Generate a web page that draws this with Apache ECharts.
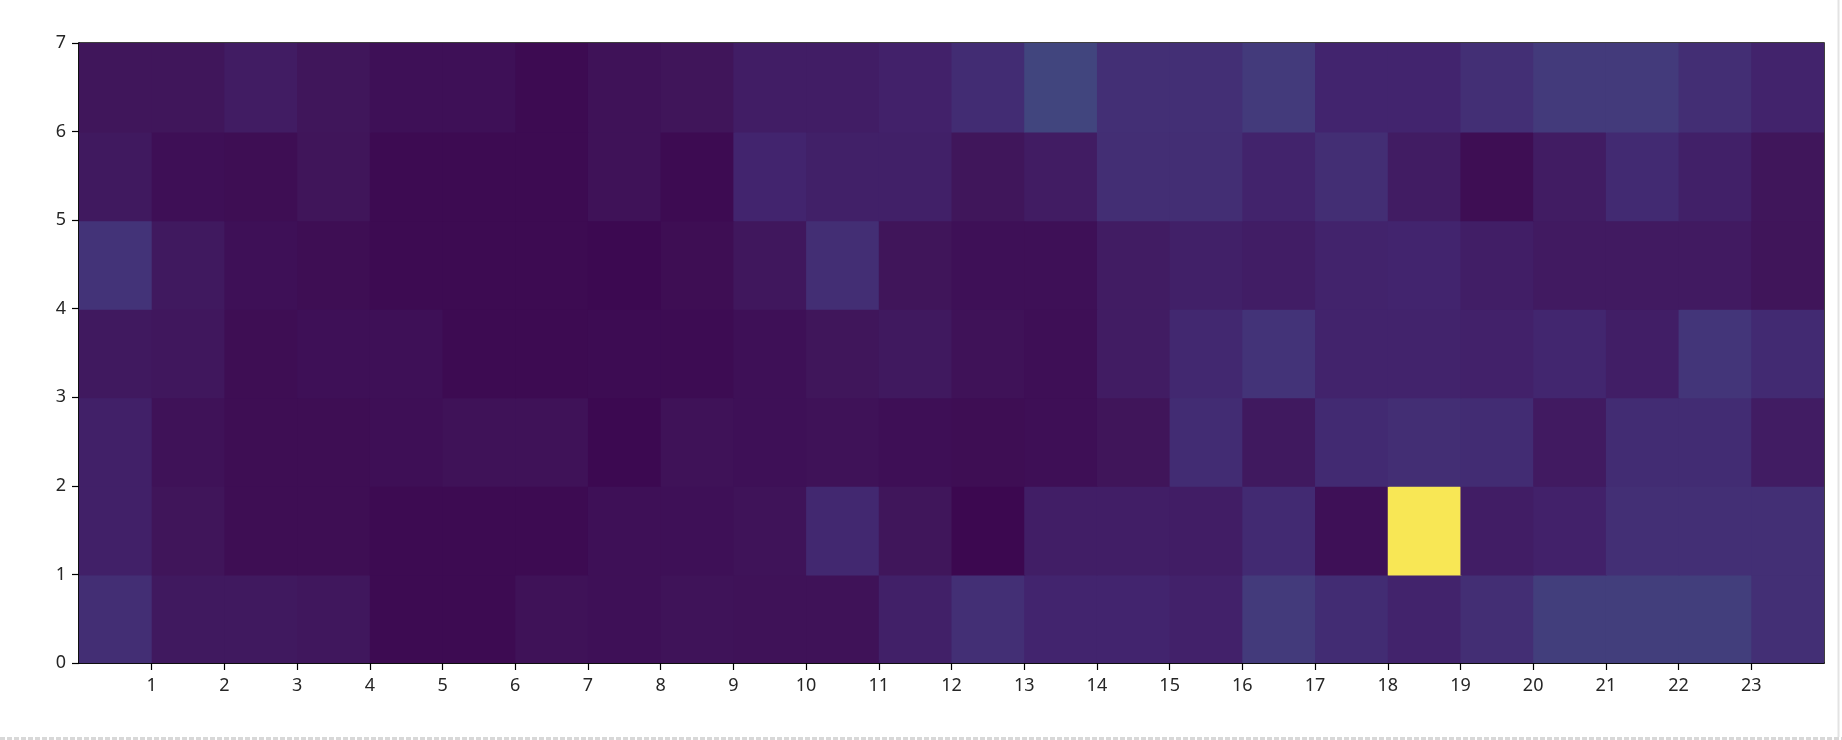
<!DOCTYPE html>
<html>
<head>
<meta charset="utf-8">
<style>
  html, body { margin: 0; padding: 0; background: #fff; }
  #chart { width: 1842px; height: 740px; }
</style>
<script src="https://cdn.jsdelivr.net/npm/echarts@6/dist/echarts.min.js"></script>
</head>
<body>
<div id="chart"></div>
<script>
// Columns (hours 0..23) and rows (0..6)
const xCount = 24;
const yCount = 7;
const xTickLabels = [1,2,3,4,5,6,7,8,9,10,11,12,13,14,15,16,17,18,19,20,21,22,23];
const yTickLabels = [0,1,2,3,4,5,6,7];

// Cell values per row (row index = y, bottom to top), 24 values each
const row0 = [12.5, 6, 6, 5.5, 1, 1, 3.5, 3, 4, 3.5, 3.5, 8.5, 13, 10, 10, 9, 16, 12, 9.5, 12.5, 17, 17, 17, 13];
const row1 = [8.5, 4.5, 2, 2, 1, 1, 1, 3, 3, 4, 11, 5, 0, 8, 8, 7.5, 11.5, 3, 100, 7.5, 9, 13, 13, 13];
const row2 = [8.5, 3.5, 2, 2, 2.5, 3.5, 3.5, 0.5, 3.5, 3, 3.5, 2.5, 2, 2.5, 4.5, 12, 6, 11.5, 12.5, 12, 6.5, 12, 12, 7];
const row3 = [6, 5.5, 2, 3, 3, 1, 1, 1.5, 1.5, 3, 5, 6, 3.5, 2.5, 7, 11, 14, 9.5, 9.5, 9, 10.5, 8, 14.5, 11.5];
const row4 = [14, 6, 3, 2, 1, 1, 1, 0.5, 2, 5.5, 12.5, 4.5, 3, 3, 7, 8.5, 7.5, 9.5, 10, 8, 6.5, 6.5, 6.5, 4.5];
const row5 = [6, 2.5, 2, 4.5, 1, 1, 1, 3.5, 1, 10, 8.5, 8.5, 5, 7, 12.5, 12.5, 9.5, 12.5, 7, 2, 7, 11.5, 8.5, 5];
const row6 = [5, 5, 7, 5, 3, 3, 1, 3.5, 4.5, 7.5, 7.5, 9, 12, 19, 13, 13, 16, 10, 10, 13, 16, 16, 12.5, 9.5];

const rows = [row0, row1, row2, row3, row4, row5, row6];
const cells = [];
rows.forEach(function (r, y) {
  r.forEach(function (v, x) { cells.push([x, y, v]); });
});

// viridis-like colour ramp (tuned to the reference's tones)
const ramp = ['#3c0850','#40165b','#42246e','#43377a','#41487f','#3b538a','#33638d','#2d718e',
  '#287d8e','#238a8d','#1f968b','#20a386','#29af7f','#3dbc74','#56c667','#75d054',
  '#95d840','#bade28','#dde318','#f0e53a','#f8e755'];

const chart = echarts.init(document.getElementById('chart'), null, { renderer: 'canvas' });
const labelFont = { color: '#262626', fontSize: 18, fontFamily: 'Noto Sans' };

chart.setOption({
  backgroundColor: '#ffffff',
  animation: false,
  grid: {
    left: 79, right: 18, top: 43, bottom: 77,
    show: true, borderColor: '#000', borderWidth: 1.5, backgroundColor: 'transparent'
  },
  xAxis: {
    type: 'value', min: 0, max: xCount, interval: 1,
    splitLine: { show: false },
    axisLine: { show: true, lineStyle: { color: '#000', width: 1.5 } },
    axisTick: { show: true, length: 7, customValues: xTickLabels, lineStyle: { color: '#000', width: 1.2 } },
    axisLabel: Object.assign({ margin: 14, customValues: xTickLabels }, labelFont)
  },
  yAxis: {
    type: 'value', min: 0, max: yCount, interval: 1,
    splitLine: { show: false },
    axisLine: { show: true, lineStyle: { color: '#000', width: 1.5 } },
    axisTick: { show: true, length: 7, customValues: yTickLabels, lineStyle: { color: '#000', width: 1.2 } },
    axisLabel: Object.assign({ margin: 13, customValues: yTickLabels }, labelFont)
  },
  visualMap: {
    show: false, type: 'continuous', min: 0, max: 100, dimension: 2, seriesIndex: 0,
    inRange: { color: ramp }
  },
  series: [{
    type: 'custom',
    data: cells,
    encode: { x: 0, y: 1 },
    renderItem: function (params, api) {
      const x = api.value(0), y = api.value(1);
      const p0 = api.coord([x, y + 1]);
      const p1 = api.coord([x + 1, y]);
      const extW = (x < xCount - 1) ? 1 : 0;
      const extH = (y > 0) ? 1 : 0;
      return {
        type: 'rect',
        shape: { x: p0[0], y: p0[1], width: p1[0] - p0[0] + extW, height: p1[1] - p0[1] + extH },
        style: { fill: api.visual('color') }
      };
    },
    z: 1
  }],
  graphic: [
    { type: 'line', silent: true, shape: { x1: 0, y1: 738.5, x2: 1842, y2: 738.5 },
      style: { stroke: '#d8d8d8', lineWidth: 3, lineDash: [5, 2] } },
    { type: 'line', silent: true, shape: { x1: 1838.5, y1: 0, x2: 1838.5, y2: 737 },
      style: { stroke: '#e3e3e3', lineWidth: 2 } }
  ]
});
</script>
</body>
</html>
